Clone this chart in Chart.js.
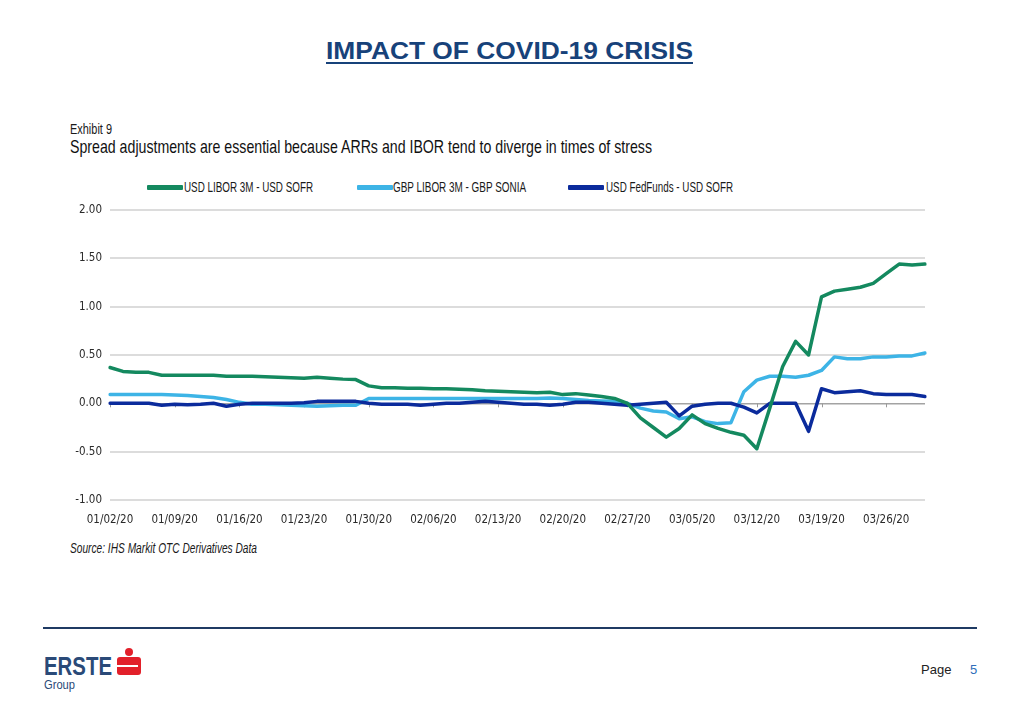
<!DOCTYPE html>
<html><head><meta charset="utf-8">
<script src="https://cdn.jsdelivr.net/npm/chart.js@4.4.1/dist/chart.umd.min.js"></script>
<style>
html,body{margin:0;padding:0;background:#fff;}
#page{position:relative;width:1028px;height:726px;overflow:hidden;background:#fff;font-family:'Liberation Sans',Arial,sans-serif;}
.t{position:absolute;white-space:nowrap;line-height:1;transform-origin:0 0;display:inline-block;}
.sw{position:absolute;height:5px;border-radius:1px;}
#chartWrap{position:absolute;left:0;top:195px;width:1028px;height:340px;}
</style></head><body>
<div id="page">
  <div class="t fit" data-w="367" style="left:326px;top:40px;font-size:23px;font-weight:bold;color:#17427a;text-decoration:underline;text-decoration-thickness:2px;text-underline-offset:3px;">IMPACT OF COVID-19 CRISIS</div>
  <div class="t fit nar" data-w="42" style="left:70px;top:122px;font-size:14px;color:#1a1a1a;">Exhibit 9</div>
  <div class="t fit nar" data-w="582" style="left:70px;top:137px;font-size:19px;color:#111;">Spread adjustments are essential because ARRs and IBOR tend to diverge in times of stress</div>
  <div id="legend"></div>
  <div id="chartWrap"><canvas id="c" width="1028" height="340"></canvas></div>
  <div class="t fit nar" data-w="187" style="left:70px;top:541px;font-size:14px;font-style:italic;color:#1a1a1a;">Source: IHS Markit OTC Derivatives Data</div>
  <div style="position:absolute;left:43px;top:627px;width:934px;height:2px;background:#1f3a63;"></div>
  <div class="t fit" data-w="68" style="left:44px;top:654px;font-size:25px;font-weight:bold;color:#2a4a78;">ERSTE</div>
  <div style="position:absolute;left:125px;top:648px;width:8px;height:8px;border-radius:50%;background:#e2202a;"></div>
  <div style="position:absolute;left:117px;top:657px;width:24px;height:18px;border-radius:3px;background:#e2202a;"></div>
  <div style="position:absolute;left:117px;top:665px;width:21px;height:2px;background:#fff;"></div>
  <div class="t fit" data-w="31" style="left:44px;top:678px;font-size:13px;color:#2a4a78;">Group</div>
  <div class="t" style="left:921px;top:663px;font-size:13px;color:#222;">Page</div>
  <div class="t" style="left:970px;top:663px;font-size:13px;color:#2f6eba;">5</div>
</div>
<script>
// ---------- DATA ----------
const categories = [
 "01/02/20","01/03/20","01/06/20","01/07/20","01/08/20","01/09/20","01/10/20","01/13/20","01/14/20","01/15/20",
 "01/16/20","01/17/20","01/20/20","01/21/20","01/22/20","01/23/20","01/24/20","01/27/20","01/28/20","01/29/20",
 "01/30/20","01/31/20","02/03/20","02/04/20","02/05/20","02/06/20","02/07/20","02/10/20","02/11/20","02/12/20",
 "02/13/20","02/14/20","02/17/20","02/18/20","02/19/20","02/20/20","02/21/20","02/24/20","02/25/20","02/26/20",
 "02/27/20","02/28/20","03/02/20","03/03/20","03/04/20","03/05/20","03/06/20","03/09/20","03/10/20","03/11/20",
 "03/12/20","03/13/20","03/16/20","03/17/20","03/18/20","03/19/20","03/20/20","03/23/20","03/24/20","03/25/20",
 "03/26/20","03/27/20","03/30/20","03/31/20"];

const usdLiborSofr = [
 0.37,0.33,0.32,0.32,0.29,0.29,0.29,0.29,0.29,0.28,
 0.28,0.28,0.275,0.27,0.265,0.26,0.27,0.26,0.25,0.245,
 0.18,0.16,0.16,0.155,0.155,0.15,0.15,0.145,0.14,0.13,
 0.125,0.12,0.115,0.11,0.115,0.09,0.10,0.085,0.07,0.05,
 0.0,-0.15,-0.25,-0.35,-0.26,-0.12,-0.21,-0.26,-0.30,-0.33,
 -0.47,-0.05,0.38,0.64,0.50,1.10,1.16,1.18,1.20,1.24,
 1.34,1.44,1.43,1.44];

const gbpLiborSonia = [
 0.09,0.09,0.09,0.09,0.09,0.085,0.08,0.07,0.06,0.04,
 0.01,-0.01,-0.01,-0.015,-0.02,-0.025,-0.03,-0.025,-0.02,-0.02,
 0.05,0.05,0.05,0.05,0.05,0.05,0.05,0.05,0.05,0.05,
 0.05,0.05,0.05,0.05,0.055,0.05,0.04,0.03,0.025,0.02,
 0.0,-0.05,-0.08,-0.09,-0.16,-0.14,-0.19,-0.21,-0.20,0.12,
 0.24,0.28,0.28,0.27,0.29,0.34,0.48,0.46,0.46,0.48,
 0.48,0.49,0.49,0.52];

const usdFedFundsSofr = [
 0.0,0.0,0.0,0.0,-0.02,-0.01,-0.015,-0.01,0.0,-0.03,
 -0.01,0.0,0.0,0.0,0.0,0.005,0.02,0.02,0.02,0.02,
 0.0,-0.01,-0.01,-0.01,-0.02,-0.01,0.0,0.0,0.01,0.02,
 0.01,0.0,-0.01,-0.01,-0.02,-0.01,0.01,0.01,0.0,-0.01,
 -0.02,-0.01,0.0,0.01,-0.13,-0.03,-0.01,0.0,0.0,-0.04,
 -0.10,0.0,0.0,0.0,-0.29,0.15,0.11,0.12,0.13,0.10,
 0.09,0.09,0.09,0.07];

const yTicks = [-1.00,-0.50,0.00,0.50,1.00,1.50,2.00];

const seriesNames = ["USD LIBOR 3M - USD SOFR","GBP LIBOR 3M - GBP SONIA","USD FedFunds - USD SOFR"];
const seriesColors = ["#14895f","#3db4e6","#0b2b9c"];

// ---------- FONT ----------
function hasFont(name){
  const c=document.createElement('canvas').getContext('2d');
  const s='abcdefghijklmnopqrstuvwxyz0123456789';
  c.font='40px monospace'; const a=c.measureText(s).width;
  c.font='40px "'+name+'", monospace'; const b=c.measureText(s).width;
  return Math.abs(a-b)>0.5;
}
let tickFamily="'Liberation Sans', Arial, sans-serif", tickSize=10.5;
if(hasFont('Liberation Sans Narrow')){tickFamily="'Liberation Sans Narrow', 'Liberation Sans', sans-serif"; tickSize=12.5;}
else if(hasFont('DejaVu Sans Condensed')){tickFamily="'DejaVu Sans Condensed', sans-serif"; tickSize=11.5;}

// ---------- LEGEND (HTML) ----------
const legendPos=[{sw:147,tx:184,w:129},{sw:357,tx:393,w:133},{sw:568,tx:606,w:127}];
const leg=document.getElementById('legend');
seriesNames.forEach((n,i)=>{
  const s=document.createElement('div'); s.className='sw';
  s.style.left=legendPos[i].sw+'px'; s.style.top='185px'; s.style.width='36px'; s.style.background=seriesColors[i];
  leg.appendChild(s);
  const t=document.createElement('div'); t.className='t fit nar'; t.textContent=n;
  t.dataset.w=legendPos[i].w; t.style.left=legendPos[i].tx+'px'; t.style.top='180px'; t.style.fontSize='14.5px'; t.style.color='#1a1a1a';
  leg.appendChild(t);
});

// ---------- FIT TEXT ----------
document.querySelectorAll('.nar').forEach(el=>{ if(tickFamily.indexOf('Narrow')>=0) el.style.fontFamily="'Liberation Sans Narrow','Liberation Sans',sans-serif"; });
document.querySelectorAll('.fit').forEach(el=>{
  const w=el.getBoundingClientRect().width; const tw=parseFloat(el.dataset.w);
  if(w>0) el.style.transform='scaleX('+(tw/w)+')';
});

// ---------- CHART ----------
const zeroTicks={id:'zeroTicks',beforeDatasetsDraw(chart){
  const {ctx,scales:{x,y}}=chart; const y0=y.getPixelForValue(0);
  ctx.save(); ctx.strokeStyle='#9a9a9a'; ctx.lineWidth=1;
  for(let i=0;i<categories.length;i+=5){const px=Math.round(x.getPixelForValue(i))+0.5;
    ctx.beginPath(); ctx.moveTo(px,y0); ctx.lineTo(px,y0+4); ctx.stroke();}
  ctx.restore();
}};

const dataArrays=[usdLiborSofr,gbpLiborSonia,usdFedFundsSofr];
const orders=[0,2,1];
new Chart(document.getElementById('c'),{
  type:'line',
  data:{labels:categories,datasets:dataArrays.map((d,i)=>({label:seriesNames[i],data:d,borderColor:seriesColors[i],backgroundColor:seriesColors[i],borderWidth:3.5,pointRadius:0,tension:0,order:orders[i],borderJoinStyle:'round',borderCapStyle:'round'}))},
  options:{
    responsive:false,animation:false,
    layout:{padding:{top:10,right:103,left:0,bottom:0}},
    plugins:{legend:{display:false},tooltip:{enabled:false}},
    scales:{
      x:{type:'category',offset:false,
        grid:{display:false,drawTicks:false},border:{display:false},
        ticks:{autoSkip:false,maxRotation:0,minRotation:0,padding:13,color:'#2a2a2a',font:{family:tickFamily,size:tickSize},
          callback:(v,i)=> (i%5===0? categories[i] : '')},
        afterFit:(s)=>{s.height=35;}
      },
      y:{min:yTicks[0],max:yTicks[yTicks.length-1],
        afterBuildTicks:(s)=>{s.ticks=yTicks.map(v=>({value:v}));},
        grid:{drawTicks:false,color:(c)=>c.tick&&c.tick.value===0?'#a3a3a3':'#dcdcdc',lineWidth:(c)=>c.tick&&c.tick.value===0?1.5:2},
        border:{display:false},
        ticks:{padding:8,color:'#2a2a2a',font:{family:tickFamily,size:tickSize},callback:(v)=>Number(v).toFixed(2)},
        afterFit:(s)=>{s.width=110;}
      }
    }
  },
  plugins:[zeroTicks]
});
</script>
</body></html>
